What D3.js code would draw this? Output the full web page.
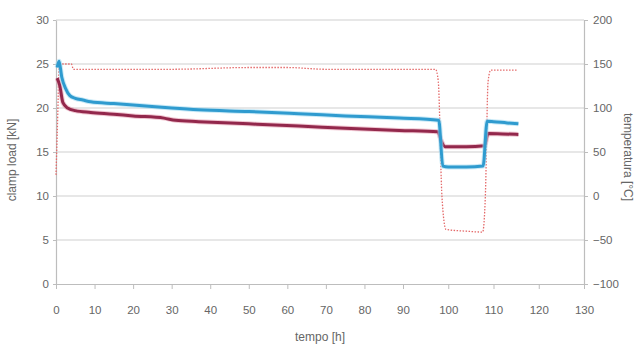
<!DOCTYPE html>
<html>
<head>
<meta charset="utf-8">
<script src="https://cdn.jsdelivr.net/npm/d3@7"></script>
<style>
  body { margin: 0; background: #fff; }
  svg text { font-family: "Liberation Sans", Arial, sans-serif; fill: #666; }
</style>
</head>
<body>
<svg width="636" height="347"></svg>
<script>
// time [h] / clamp load [kN] - blue series
const blueTime = [0.3, 0.8, 1.5, 2.5, 3.6, 5, 7, 9, 15, 20, 30, 37, 50, 63, 75, 89, 97.9, 98.8, 100, 104, 107.7, 108.6, 110, 113, 115.5];
const blueLoad = [24.6, 25.3, 23.5, 22.2, 21.4, 21.1, 20.9, 20.7, 20.5, 20.35, 20.0, 19.8, 19.6, 19.35, 19.1, 18.85, 18.6, 13.4, 13.3, 13.3, 13.4, 18.5, 18.45, 18.3, 18.2];

// maroon series
const redTime = [0.3, 1, 1.8, 3, 5, 9, 15, 20, 28, 31, 37, 50, 63, 75, 89, 97.7, 98.5, 99.3, 104, 108, 108.8, 112, 115.5];
const redLoad = [23.4, 22.5, 20.6, 20.0, 19.7, 19.5, 19.3, 19.1, 18.85, 18.6, 18.45, 18.2, 17.95, 17.7, 17.45, 17.3, 16.2, 15.6, 15.6, 15.7, 17.1, 17.05, 17.0];

// temperature [°C] - right axis
const tempTime = [0, 0.5, 0.8, 4, 4.5, 30, 50, 60, 70, 97.2, 97.8, 98.6, 99.5, 104, 107.6, 108.2, 108.8, 109.4, 115.2];
const tempVal = [24, 100, 150, 150, 144, 144, 146, 146, 144, 144, 130, 0, -38, -40, -41, 0, 130, 143, 143];

const xTicks = d3.range(0, 131, 10);
const yTicks = d3.range(0, 31, 5);
const y2Ticks = d3.range(-100, 201, 50);

const svg = d3.select("svg");
const pl = 56, pr = 584, pt = 20, pb = 284;

// the picture is a bit stretched on the right, so a two-piece scale
const x = d3.scaleLinear().domain([0, 90, 130]).range([pl, 403, pr]);
const y = d3.scaleLinear().domain([0, 30]).range([pb, pt]);
const y2 = d3.scaleLinear().domain([-100, 200]).range([pb, pt]);

// grid
svg.append("g").selectAll("line")
  .data(yTicks.slice(1))
  .enter().append("line")
  .attr("x1", pl).attr("x2", pr)
  .attr("y1", d => y(d)).attr("y2", d => y(d))
  .attr("stroke", "#cfcfcf").attr("stroke-width", 1.2);

// axes
const styleAxis = g => {
  g.select(".domain").attr("stroke", "#bdbdbd").attr("stroke-width", 1.2);
  g.selectAll(".tick line").attr("stroke", "#bdbdbd");
  g.selectAll(".tick text").attr("fill", "#666").style("font-size", "11.5px");
};

svg.append("g")
  .attr("transform", `translate(0,${pb})`)
  .call(d3.axisBottom(x).tickValues(xTicks).tickSize(5).tickSizeOuter(0).tickPadding(17))
  .call(styleAxis);

svg.append("g")
  .attr("transform", `translate(${pl},0)`)
  .call(d3.axisLeft(y).tickValues(yTicks).tickSize(3).tickSizeOuter(0).tickPadding(4))
  .call(styleAxis);

svg.append("g")
  .attr("transform", `translate(${pr},0)`)
  .call(d3.axisRight(y2).tickValues(y2Ticks).tickSize(4).tickSizeOuter(0).tickPadding(5))
  .call(styleAxis);

// lines
const tempLine = d3.line().x(d => x(d[0])).y(d => y2(d[1])).curve(d3.curveMonotoneX);
const loadLine = d3.line().x(d => x(d[0])).y(d => y(d[1])).curve(d3.curveMonotoneX);

svg.append("path")
  .datum(d3.zip(tempTime, tempVal))
  .attr("fill", "none").attr("stroke", "#e46a6a")
  .attr("stroke-width", 1.3).attr("stroke-dasharray", "1.5,1.5")
  .attr("d", tempLine);

const series = [
  { t: redTime, v: redLoad, c: "#93284c", halo: "#e7a3b6" },
  { t: blueTime, v: blueLoad, c: "#2f9bcf", halo: "#a6dcf2" }
];
series.forEach(s => {
  const pts = d3.zip(s.t, s.v);
  svg.append("path").datum(pts)
    .attr("fill", "none").attr("stroke", s.halo).attr("stroke-width", 5)
    .attr("stroke-opacity", 0.6).attr("d", loadLine);
  svg.append("path").datum(pts)
    .attr("fill", "none").attr("stroke", s.c).attr("stroke-width", 3)
    .attr("d", loadLine);
});

// titles
svg.append("text")
  .attr("transform", "translate(16,160) rotate(-90)")
  .attr("text-anchor", "middle").style("font-size", "12px")
  .text("clamp load [kN]");

svg.append("text")
  .attr("transform", "translate(624,157) rotate(90)")
  .attr("text-anchor", "middle").style("font-size", "12px")
  .text("temperatura [°C]");

svg.append("text")
  .attr("x", 320).attr("y", 341)
  .attr("text-anchor", "middle").style("font-size", "12px")
  .text("tempo [h]");
</script>
</body>
</html>
